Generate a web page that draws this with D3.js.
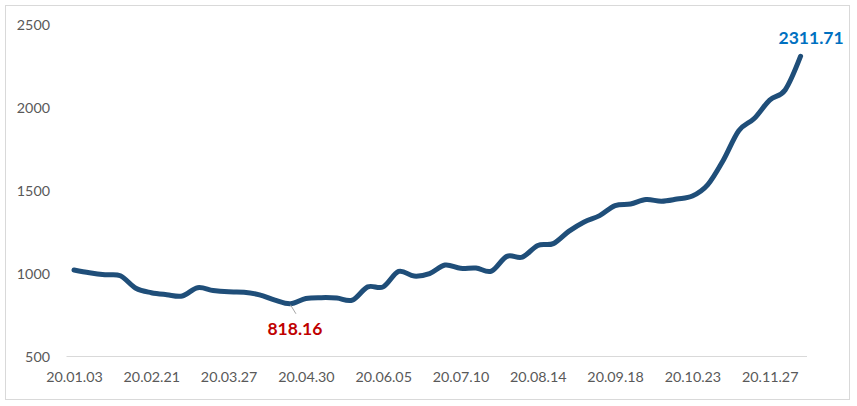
<!DOCTYPE html>
<html>
<head>
<meta charset="utf-8">
<script src="https://cdn.jsdelivr.net/npm/d3@7"></script>
<style>
  html, body { margin: 0; padding: 0; background: #fff; }
  svg { display: block; font-family: Lato, "Open Sans", sans-serif; }
</style>
</head>
<body>
<svg id="chart" width="857" height="406"></svg>
<script>
// weekly index values (48 points)
const values = [
  1022, 1005, 993, 987, 912, 885, 873, 865, 915, 898,
  890, 888, 872, 840, 818.16, 850, 855, 853, 840, 920,
  920, 1013, 985, 1000, 1052, 1032, 1034, 1015, 1104, 1100,
  1170, 1181, 1255, 1312, 1350, 1410, 1420, 1447, 1437, 1450,
  1468, 1537, 1684, 1862, 1936, 2047, 2108, 2311.71
];
const tickIndex = [0, 5, 10, 15, 20, 25, 30, 35, 40, 45];
const tickLabels = ["20.01.03", "20.02.21", "20.03.27", "20.04.30", "20.06.05",
                    "20.07.10", "20.08.14", "20.09.18", "20.10.23", "20.11.27"];
const yTicks = [500, 1000, 1500, 2000, 2500];
const minLabel = "818.16";
const maxLabel = "2311.71";

const svg = d3.select("#chart");

// outer border
svg.append("rect")
  .attr("x", 5.5).attr("y", 5.5)
  .attr("width", 844).attr("height", 394)
  .attr("fill", "#fff").attr("stroke", "#d9d9d9").attr("stroke-width", 1);

const x = d3.scaleLinear().domain([0, values.length - 1]).range([74, 800.6]);
const y = d3.scaleLinear().domain([500, 2500]).range([356.5, 25]);

// baseline
svg.append("line")
  .attr("x1", 66.5).attr("x2", 807)
  .attr("y1", y(500)).attr("y2", y(500))
  .attr("stroke", "#d9d9d9").attr("stroke-width", 1);

// y axis
const yAxis = svg.append("g")
  .attr("transform", "translate(58,0)")
  .call(d3.axisLeft(y).tickValues(yTicks).tickSize(0).tickPadding(8).tickFormat(d3.format("d")));
yAxis.select(".domain").remove();
yAxis.selectAll("text")
  .attr("fill", "#595959").style("font-size", "14.3px").style("font-family", "Lato, sans-serif");

// x axis
const xAxis = svg.append("g")
  .attr("transform", `translate(0,${y(500)})`)
  .call(d3.axisBottom(x).tickValues(tickIndex).tickSize(0).tickPadding(15.5)
    .tickFormat((d, i) => tickLabels[i]));
xAxis.select(".domain").remove();
xAxis.selectAll("text")
  .attr("fill", "#595959").style("font-size", "14.3px").style("font-family", "Lato, sans-serif");

// line
const line = d3.line()
  .x((d, i) => x(i))
  .y(d => y(d))
  .curve(d3.curveCardinal.tension(0));

svg.append("path")
  .datum(values)
  .attr("d", line)
  .attr("fill", "none")
  .attr("stroke", "#1f4e79")
  .attr("stroke-width", 5)
  .attr("stroke-linecap", "round")
  .attr("stroke-linejoin", "round");

// min annotation
const minIdx = values.indexOf(d3.min(values));
svg.append("line")
  .attr("x1", x(minIdx)).attr("y1", y(values[minIdx]) + 1)
  .attr("x2", x(minIdx) + 5.5).attr("y2", y(values[minIdx]) + 10)
  .attr("stroke", "#a6a6a6").attr("stroke-width", 1);
svg.append("text")
  .attr("x", x(minIdx) + 4.5).attr("y", y(values[minIdx]) + 31)
  .attr("text-anchor", "middle")
  .attr("fill", "#c00000")
  .style("font-size", "17.5px").style("font-weight", "bold")
  .text(minLabel);

// max annotation
const maxIdx = values.length - 1;
svg.append("text")
  .attr("x", x(maxIdx) + 10.5).attr("y", y(values[maxIdx]) - 12)
  .attr("text-anchor", "middle")
  .attr("fill", "#0070c0")
  .style("font-size", "17.5px").style("font-weight", "bold")
  .text(maxLabel);
</script>
</body>
</html>
